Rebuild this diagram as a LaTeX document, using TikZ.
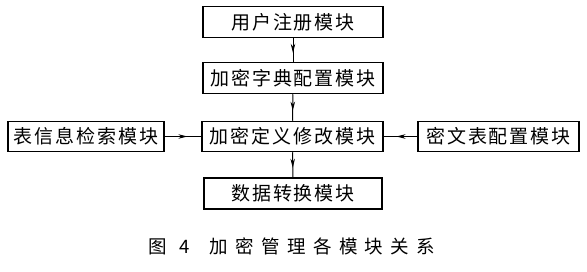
\documentclass[tikz,border=0pt]{standalone}
\usepackage{fontspec}
\newfontfamily\cjk{Noto Sans CJK SC}
\newfontfamily\cjkcap[LetterSpace=40]{Noto Sans CJK SC}
\usetikzlibrary{arrows.meta,decorations.markings}
\tikzset{
  modbox/.style={draw, line width=1.5pt, inner sep=0pt, minimum height=31pt,
    font=\cjk\addfontfeature{LetterSpace=10}\fontsize{19pt}{21pt}\selectfont},
  flow/.style={line width=1pt, postaction={decorate}, decoration={markings,
    mark=at position 0.62 with {\arrow{Stealth[length=9pt,width=4.5pt]}}}}
}
\begin{document}
\begin{tikzpicture}[x=1pt,y=1pt]
  \useasboundingbox[fill=white] (0,0) rectangle (587,271);
  % Module boxes
  \node[modbox, minimum width=180pt] (reg)    at (293,249)   {用户注册模块};
  \node[modbox, minimum width=180pt] (dict)   at (293,193)   {加密字典配置模块};
  \node[modbox, minimum width=181pt, minimum height=30pt] (defn) at (292.5,134.5) {加密定义修改模块};
  \node[modbox, minimum width=178pt] (conv)   at (293,77.5)  {数据转换模块};
  \node[modbox, minimum width=156pt, minimum height=30pt] (search) at (86,134.5)   {表信息检索模块};
  \node[modbox, minimum width=161pt, minimum height=30pt] (cipher) at (498.5,134.5) {密文表配置模块};
  % Connectors
  \draw[flow] (reg) -- (dict);
  \draw[flow] (dict) -- (defn);
  \draw[flow] (defn) -- (conv);
  \draw[flow] (search) -- (defn);
  \draw[flow] (cipher) -- (defn);
  % Caption
  \node[font=\cjkcap\fontsize{18.5pt}{21pt}\selectfont] (cap) at (292,25) {图\hspace{12pt}4\hspace{20pt}加密管理各模块关系};
\end{tikzpicture}
\end{document}
